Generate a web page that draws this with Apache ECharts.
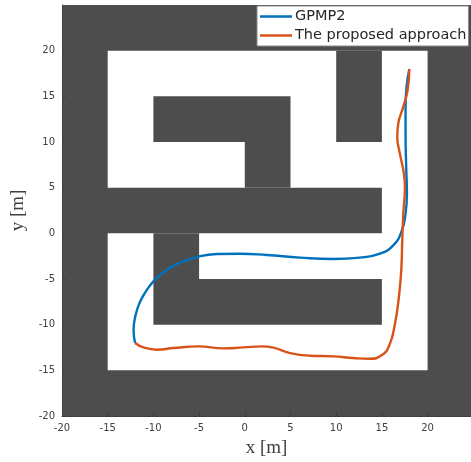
<!DOCTYPE html>
<html>
<head>
<meta charset="utf-8">
<style>html,body{margin:0;padding:0;background:#fff}#c{width:471px;height:462px}</style>
<script src="https://cdn.jsdelivr.net/npm/echarts@6/dist/echarts.min.js"></script>
</head>
<body>
<div id="c"></div>
<script>
const freeSpace = [[-15, -15, 20, 20]];
const obstacles = [
  [10, 10, 15, 20],
  [-10, 10, 5, 15],
  [0, 5, 5, 10],
  [-16, 0, 15, 5],
  [-10, -5, -5, 0],
  [-10, -10, 15, -5]
];
const gpmp2 = [
  [-12,-12],[-12.17,-10.6],[-12.0,-9.2],[-11.55,-7.7],[-10.85,-6.4],[-9.95,-5.2],
  [-8.75,-4.15],[-7.25,-3.3],[-5.07,-2.55],[-3.06,-2.26],[-0.51,-2.23],[2.4,-2.37],
  [6.04,-2.66],[9.69,-2.81],[12.6,-2.66],[14.79,-2.23],[16.24,-1.31],[17.15,0.2],
  [17.59,2.15],[17.74,4.34],[17.66,7.26],[17.59,10.92],[17.59,13.84],[17.7,16.03],[18,18]
];
const proposed = [
  [-12,-12],[-11.08,-12.49],[-9.62,-12.74],[-7.8,-12.56],[-5.07,-12.38],[-2.34,-12.6],
  [-0.15,-12.49],[1.85,-12.38],[3.13,-12.52],[4.95,-13.11],[7.14,-13.4],[9.69,-13.47],
  [11.87,-13.65],[13.69,-13.73],[14.97,-13.36],[15.81,-12.27],[16.43,-9.89],[16.86,-6.97],
  [17.12,-4.05],[17.23,-0.77],[17.34,2.15],[17.52,5.07],[17.41,6.53],[16.97,8.73],
  [16.68,10.55],[16.79,12.01],[17.34,13.84],[17.81,15.66],[18,18]
];
const xRange = [-20, 24.75];
const yRange = [-20, 25];
const tickStep = 5;
const seriesNames = ['GPMP2', 'The proposed approach'];

const DARK = '#4d4d4d';
const rectSeries = (data, color, z) => ({
  type: 'custom',
  data,
  z,
  silent: true,
  clip: true,
  encode: { x: [0, 2], y: [1, 3] },
  renderItem: (params, api) => {
    const a = api.coord([api.value(0), api.value(3)]);
    const b = api.coord([api.value(2), api.value(1)]);
    return {
      type: 'rect',
      shape: { x: a[0], y: a[1], width: b[0] - a[0], height: b[1] - a[1] },
      style: { fill: color }
    };
  }
});
const axisBase = {
  type: 'value',
  interval: tickStep,
  splitLine: { show: false },
  axisLine: { show: true, onZero: false, lineStyle: { color: '#404040', width: 1 } },
  axisTick: { show: true, inside: true, length: 4, lineStyle: { color: '#404040' } },
  nameLocation: 'middle',
  nameTextStyle: { fontFamily: 'Liberation Serif', fontSize: 19, color: '#404040' }
};
const chart = echarts.init(document.getElementById('c'));
chart.setOption({
  animation: false,
  backgroundColor: '#fff',
  grid: { left: 62, top: 5, width: 409, height: 411, show: true, backgroundColor: DARK, borderWidth: 0, outerBoundsMode: 'none' },
  legend: {
    data: seriesNames,
    orient: 'vertical',
    left: 257,
    top: 6,
    icon: 'rect',
    itemWidth: 32,
    itemHeight: 2.5,
    itemGap: 4,
    padding: [3, 2, 3, 3],
    backgroundColor: '#fff',
    borderColor: '#8a8a8a',
    borderWidth: 1,
    textStyle: { fontFamily: 'DejaVu Sans', fontSize: 14.5, color: '#262626', padding: [0, 0, 0, -2] },
    selectedMode: false
  },
  xAxis: Object.assign({}, axisBase, {
    min: xRange[0], max: xRange[1],
    name: 'x [m]', nameGap: 23,
    axisLabel: { showMaxLabel: false, fontFamily: 'DejaVu Sans', fontSize: 10, color: '#404040', margin: 7 }
  }),
  yAxis: Object.assign({}, axisBase, {
    min: yRange[0], max: yRange[1],
    name: 'y [m]', nameGap: 29,
    axisLabel: { showMaxLabel: false, fontFamily: 'DejaVu Sans', fontSize: 10, color: '#404040', margin: 7 }
  }),
  series: [
    rectSeries(freeSpace, '#ffffff', 1),
    rectSeries(obstacles, DARK, 2),
    { name: seriesNames[0], type: 'line', data: gpmp2, z: 3, symbol: 'none', smooth: 0.5,
      lineStyle: { color: '#0072BD', width: 2.4 }, itemStyle: { color: '#0072BD' } },
    { name: seriesNames[1], type: 'line', data: proposed, z: 4, symbol: 'none', smooth: 0.5,
      lineStyle: { color: '#D95319', width: 2.4 }, itemStyle: { color: '#D95319' } }
  ]
});
</script>
</body>
</html>
